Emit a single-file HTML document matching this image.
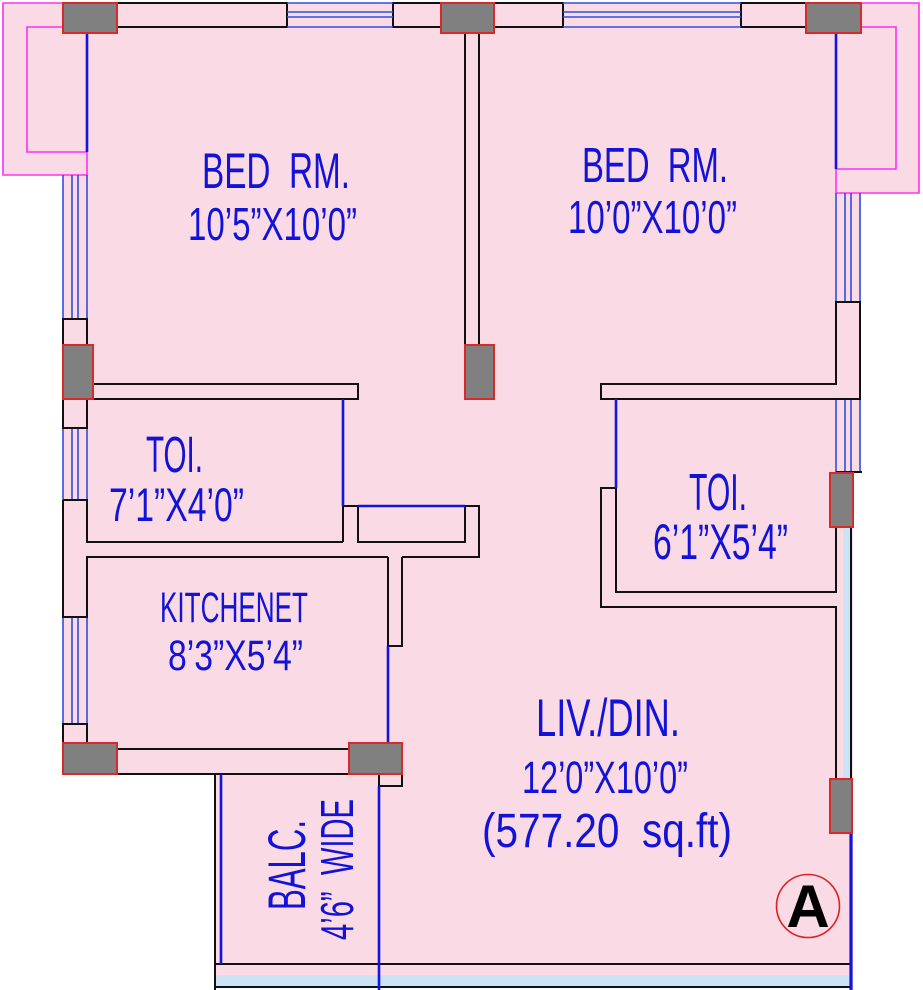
<!DOCTYPE html>
<html>
<head>
<meta charset="utf-8">
<style>
  html,body{margin:0;padding:0;background:#ffffff;}
  svg{display:block;}
  .t{font-family:"Liberation Sans",sans-serif;fill:#1212d8;}
</style>
</head>
<body>
<svg width="923" height="990" viewBox="0 0 923 990" xmlns="http://www.w3.org/2000/svg">
  <rect x="0" y="0" width="923" height="990" fill="#ffffff"/>
  <!-- pink floor -->
  <polygon points="3,3 919,3 919,193 861,193 861,472 853,472 853,988 215,988 215,774 63,774 63,175 3,175" fill="#fadae4"/>

  <!-- bays (magenta) -->
  <g fill="none" stroke="#ff30ee" stroke-width="1.6">
    <path d="M63,3 H3 V175 H87 V152"/>
    <path d="M63,27 H27 V152 H87"/>
    <path d="M861,3 H919 V193 H836 V169"/>
    <path d="M861,27 H896 V169 H836"/>
  </g>

  <!-- top walls -->
  <g fill="#fadae4" stroke="#111" stroke-width="2">
    <rect x="117" y="3" width="170" height="24"/>
    <rect x="393" y="3" width="48" height="24"/>
    <rect x="494" y="3" width="69" height="24"/>
    <rect x="741" y="3" width="65" height="24"/>
  </g>
  <!-- top windows -->
  <g stroke="#2f4fd8" stroke-width="1.6">
    <line x1="287" y1="3" x2="393" y2="3"/>
    <line x1="287" y1="12" x2="393" y2="12"/>
    <line x1="287" y1="17" x2="393" y2="17"/>
    <line x1="287" y1="27" x2="393" y2="27"/>
    <line x1="563" y1="3" x2="741" y2="3"/>
    <line x1="563" y1="12" x2="741" y2="12"/>
    <line x1="563" y1="17" x2="741" y2="17"/>
    <line x1="563" y1="27" x2="741" y2="27"/>
  </g>

  <!-- left side windows -->
  <g stroke="#2f4fd8" stroke-width="1.6">
    <line x1="63" y1="175" x2="63" y2="319"/><line x1="72" y1="175" x2="72" y2="319"/>
    <line x1="78" y1="175" x2="78" y2="319"/><line x1="87" y1="175" x2="87" y2="319"/>
    <line x1="63" y1="428" x2="63" y2="500"/><line x1="72" y1="428" x2="72" y2="500"/>
    <line x1="78" y1="428" x2="78" y2="500"/><line x1="87" y1="428" x2="87" y2="500"/>
    <line x1="63" y1="617" x2="63" y2="724"/><line x1="72" y1="617" x2="72" y2="724"/>
    <line x1="78" y1="617" x2="78" y2="724"/><line x1="87" y1="617" x2="87" y2="724"/>
  </g>
  <!-- right side windows -->
  <g stroke="#2f4fd8" stroke-width="1.6">
    <line x1="836" y1="193" x2="836" y2="302"/><line x1="845" y1="193" x2="845" y2="302"/>
    <line x1="851" y1="193" x2="851" y2="302"/><line x1="860" y1="193" x2="860" y2="302"/>
    <line x1="836" y1="399" x2="836" y2="472"/><line x1="845" y1="399" x2="845" y2="472"/>
    <line x1="851" y1="399" x2="851" y2="472"/><line x1="860" y1="399" x2="860" y2="472"/>
  </g>

  <!-- light blue strips -->
  <rect x="843" y="527" width="8" height="252" fill="#cce3f6"/>
  <rect x="215" y="975" width="636" height="12" fill="#cce3f6"/>

  <!-- black wall lines -->
  <g fill="none" stroke="#111" stroke-width="2">
    <rect x="63" y="319" width="24" height="26" fill="#fadae4"/>
    <rect x="63" y="399" width="24" height="29" fill="#fadae4"/>
    <rect x="63" y="724" width="24" height="19" fill="#fadae4"/>
    <path d="M63,500 H87 V542 H343"/>
    <path d="M63,500 V617 H87 V557 H388"/>
    <path d="M93,384 H358 V399 H93"/>
    <path d="M343,506 V542"/>
    <path d="M343,506 H358 V542 H465 V506 H479 V557 H402"/>
    <path d="M388,557 V646 H402 V557"/>
    <path d="M117,749 H349"/>
    <path d="M117,774 H349"/>
    <path d="M379,774 V786 H402 V774"/>
    <path d="M465,33 V345"/>
    <path d="M479,33 V345"/>
    <path d="M836,302 H860 V399 H601 V384 H836 Z" fill="#fadae4"/>
    <line x1="836" y1="472" x2="862" y2="472"/>
    <path d="M616,488 H601 V607 H836 V779"/>
    <path d="M616,488 V592 H836 V527"/>
    <line x1="851" y1="527" x2="851" y2="779"/>
    <line x1="215" y1="964" x2="851" y2="964"/>
    <line x1="215" y1="987" x2="851" y2="987"/>
    <line x1="215" y1="774" x2="215" y2="990"/>
  </g>

  <!-- blue lines -->
  <g stroke="#1414e0" stroke-width="2.6" fill="none">
    <line x1="87" y1="33" x2="87" y2="152"/>
    <line x1="836" y1="33" x2="836" y2="169"/>
    <line x1="343" y1="399" x2="343" y2="506"/>
    <line x1="358" y1="506" x2="465" y2="506"/>
    <line x1="388" y1="646" x2="388" y2="743"/>
    <line x1="379" y1="786" x2="379" y2="990"/>
    <line x1="616" y1="399" x2="616" y2="488"/>
    <line x1="221" y1="774" x2="221" y2="964"/>
    <line x1="851" y1="833" x2="851" y2="990" stroke-width="3.2"/>
  </g>

  <!-- columns -->
  <g fill="#808080" stroke="#d82a2a" stroke-width="2">
    <rect x="63" y="3" width="54" height="30"/>
    <rect x="441" y="3" width="53" height="30"/>
    <rect x="806" y="3" width="55" height="30"/>
    <rect x="63" y="345" width="30" height="54"/>
    <rect x="465" y="345" width="29" height="54"/>
    <rect x="830" y="473" width="23" height="54"/>
    <rect x="830" y="779" width="22" height="54"/>
    <rect x="63" y="743" width="54" height="31"/>
    <rect x="349" y="743" width="53" height="31"/>
  </g>

  <!-- labels -->
  <text class="t" x="202" y="188" font-size="50" textLength="148" lengthAdjust="spacingAndGlyphs">BED&#160;&#160;RM.</text>
  <text class="t" x="188" y="240" font-size="46" textLength="169" lengthAdjust="spacingAndGlyphs">10’5”X10’0”</text>

  <text class="t" x="582" y="182" font-size="49" textLength="146" lengthAdjust="spacingAndGlyphs">BED&#160;&#160;RM.</text>
  <text class="t" x="568" y="233" font-size="46" textLength="169" lengthAdjust="spacingAndGlyphs">10’0”X10’0”</text>

  <text class="t" x="146" y="472" font-size="51" textLength="57" lengthAdjust="spacingAndGlyphs">TOI.</text>
  <text class="t" x="109" y="521" font-size="47" textLength="135" lengthAdjust="spacingAndGlyphs">7’1”X4’0”</text>

  <text class="t" x="689" y="510" font-size="52" textLength="58" lengthAdjust="spacingAndGlyphs">TOI.</text>
  <text class="t" x="653" y="559" font-size="50" textLength="135" lengthAdjust="spacingAndGlyphs">6’1”X5’4”</text>

  <text class="t" x="160" y="622" font-size="43" textLength="148" lengthAdjust="spacingAndGlyphs">KITCHENET</text>
  <text class="t" x="168" y="670" font-size="43" textLength="135" lengthAdjust="spacingAndGlyphs">8’3”X5’4”</text>

  <text class="t" x="536" y="736" font-size="53" textLength="144" lengthAdjust="spacingAndGlyphs">LIV./DIN.</text>
  <text class="t" x="522" y="793" font-size="45" textLength="166" lengthAdjust="spacingAndGlyphs">12’0”X10’0”</text>
  <text class="t" x="482" y="847" font-size="48" textLength="250" lengthAdjust="spacingAndGlyphs">(577.20&#160;&#160;sq.ft)</text>

  <text class="t" transform="translate(305,910) rotate(-90)" x="0" y="0" font-size="53" textLength="90" lengthAdjust="spacingAndGlyphs">BALC.</text>
  <text class="t" transform="translate(353,940) rotate(-90)" x="0" y="0" font-size="46" textLength="141" lengthAdjust="spacingAndGlyphs">4’6”&#160;&#160;WIDE</text>

  <!-- A marker -->
  <circle cx="808" cy="906" r="31.5" fill="none" stroke="#e02020" stroke-width="1.6"/>
  <text x="808" y="927" font-family="Liberation Sans, sans-serif" font-weight="bold" font-size="60" fill="#000" text-anchor="middle">A</text>
</svg>
</body>
</html>
